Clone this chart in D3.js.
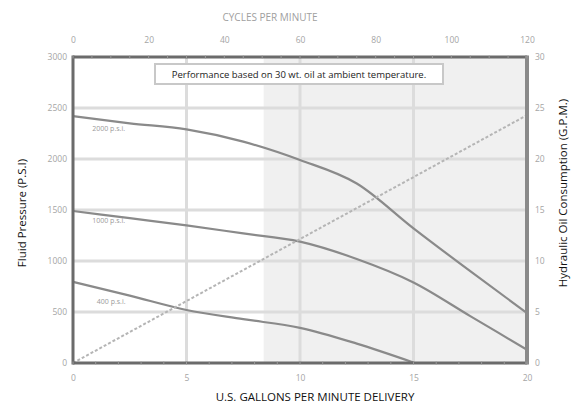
<!DOCTYPE html>
<html><head><meta charset="utf-8">
<script src="https://cdn.jsdelivr.net/npm/d3@7"></script>
<style>body{margin:0;background:#fff}svg{display:block}</style>
</head><body>
<script>
// Data
const gpmTicks = [0, 5, 10, 15, 20];
const psiTicks = [0, 500, 1000, 1500, 2000, 2500, 3000];
const cpmTicks = [0, 20, 40, 60, 80, 100, 120];
const oilTicks = [0, 5, 10, 15, 20, 25, 30];
const curveNames = ["2000 p.s.i.", "1000 p.s.i.", "400 p.s.i."];
const gpm2000 = [0, 2.5, 5, 7.5, 10, 12.5, 15, 17.5, 20];
const psi2000 = [2420, 2350, 2290, 2170, 1990, 1760, 1320, 900, 490];
const gpm1000 = [0, 2.5, 5, 7.5, 10, 12.5, 15, 17.5, 20];
const psi1000 = [1490, 1420, 1350, 1270, 1190, 1020, 790, 460, 130];
const gpm400 = [0, 2.5, 5, 7.5, 10, 12.5, 15];
const psi400 = [795, 660, 520, 430, 345, 190, 5];
const oilGpm = [0, 20];
const oilUse = [0, 24.3];
const shadeFrom = 8.4;
const note = "Performance based on 30 wt. oil at ambient temperature.";

const W = 579, H = 407;
const m = {l: 73, r: 52, t: 57, b: 44};
const svg = d3.select("body").append("svg").attr("width", W).attr("height", H)
  .style("font-family", "'Open Sans', 'Noto Sans', sans-serif");

const x = d3.scaleLinear().domain([0, 20]).range([m.l, W - m.r]);
const xTop = d3.scaleLinear().domain([0, 120]).range([m.l, W - m.r]);
const y = d3.scaleLinear().domain([0, 3000]).range([H - m.b, m.t]);
const yR = d3.scaleLinear().domain([0, 30]).range([H - m.b, m.t]);

// shaded region
svg.append("rect").attr("x", x(shadeFrom)).attr("y", y(3000))
  .attr("width", x(20) - x(shadeFrom)).attr("height", y(0) - y(3000)).attr("fill", "#f0f0f0");

// grid
svg.append("g").selectAll("line").data(psiTicks.slice(1, -1)).join("line")
  .attr("x1", x(0)).attr("x2", x(20)).attr("y1", d => y(d)).attr("y2", d => y(d))
  .attr("stroke", "#dcdcdc").attr("stroke-width", 3);
svg.append("g").selectAll("line").data(gpmTicks.slice(1, -1)).join("line")
  .attr("y1", y(0)).attr("y2", y(3000)).attr("x1", d => x(d)).attr("x2", d => x(d))
  .attr("stroke", "#dcdcdc").attr("stroke-width", 3);

// note box
const noteG = svg.append("g");
noteG.append("rect").attr("x", 155).attr("y", 64).attr("width", 288).attr("height", 20)
  .attr("fill", "#fff").attr("stroke", "#c8c8c8").attr("stroke-width", 2);
noteG.append("text").attr("x", 299).attr("y", 78).attr("text-anchor", "middle")
  .attr("font-size", 9.5).attr("fill", "#222").text(note);

// curves
const line = d3.line().x(d => x(d[0])).y(d => y(d[1])).curve(d3.curveMonotoneX);
const series = [
  [gpm2000, psi2000], [gpm1000, psi1000], [gpm400, psi400]
];
series.forEach(([gx, gy]) => {
  svg.append("path").datum(gx.map((g, i) => [g, gy[i]]))
    .attr("d", line).attr("fill", "none").attr("stroke", "#8a8a8a").attr("stroke-width", 2.2);
});
// oil line
svg.append("path").datum(oilGpm.map((g, i) => [g, oilUse[i]]))
  .attr("d", d3.line().x(d => x(d[0])).y(d => yR(d[1])))
  .attr("fill", "none").attr("stroke", "#b5b5b5").attr("stroke-width", 2)
  .attr("stroke-dasharray", "3,2");

// curve labels
const labelPos = [[0.85, 2270], [0.85, 1370], [1.05, 580]];
curveNames.forEach((n, i) => {
  svg.append("text").attr("x", x(labelPos[i][0])).attr("y", y(labelPos[i][1]))
    .attr("font-size", 7).attr("fill", "#9a9a9a").text(n);
});

// frame
svg.append("line").attr("x1", x(0)).attr("x2", x(20)).attr("y1", y(3000)).attr("y2", y(3000))
  .attr("stroke", "#6b6b6b").attr("stroke-width", 3);
svg.append("line").attr("x1", x(0)).attr("x2", x(20)).attr("y1", y(0)).attr("y2", y(0))
  .attr("stroke", "#6b6b6b").attr("stroke-width", 3);
svg.append("line").attr("x1", x(0)).attr("x2", x(0)).attr("y1", y(0) + 1.5).attr("y2", y(3000) - 1.5)
  .attr("stroke", "#6b6b6b").attr("stroke-width", 3);
svg.append("line").attr("x1", x(20)).attr("x2", x(20)).attr("y1", y(0) + 1.5).attr("y2", y(3000) - 1.5)
  .attr("stroke", "#8a8a8a").attr("stroke-width", 4);

// minor ticks along top and bottom
const minor = d3.range(0, 20.01, 1);
svg.append("g").selectAll("line").data(minor).join("line")
  .attr("x1", d => x(d)).attr("x2", d => x(d)).attr("y1", y(0) - 1.5).attr("y2", y(0) + 1.5)
  .attr("stroke", "#999").attr("stroke-width", 1);
svg.append("g").selectAll("line").data(d3.range(0, 120.1, 5)).join("line")
  .attr("x1", d => xTop(d)).attr("x2", d => xTop(d)).attr("y1", y(3000) - 1.5).attr("y2", y(3000) + 1.5)
  .attr("stroke", "#999").attr("stroke-width", 1);

// axes
const fmt = d3.format("d");
const tickStyle = g => {
  g.select(".domain").remove();
  g.selectAll(".tick line").remove();
  g.selectAll(".tick text").attr("fill", "#a5a5a5").attr("font-size", 8.5)
    .style("font-family", "'Open Sans', sans-serif");
};
svg.append("g").attr("transform", `translate(${m.l},0)`)
  .call(d3.axisLeft(y).tickValues(psiTicks).tickFormat(fmt).tickSize(0).tickPadding(6)).call(tickStyle);
svg.append("g").attr("transform", `translate(${W - m.r},0)`)
  .call(d3.axisRight(yR).tickValues(oilTicks).tickFormat(fmt).tickSize(0).tickPadding(8)).call(tickStyle);
svg.append("g").attr("transform", `translate(0,${H - m.b})`)
  .call(d3.axisBottom(x).tickValues(gpmTicks).tickFormat(fmt).tickSize(0).tickPadding(12)).call(tickStyle);
svg.append("g").attr("transform", `translate(0,${m.t})`)
  .call(d3.axisTop(xTop).tickValues(cpmTicks).tickFormat(fmt).tickSize(0).tickPadding(14)).call(tickStyle);

// titles
svg.append("text").attr("x", 270).attr("y", 21).attr("text-anchor", "middle")
  .attr("font-size", 10).attr("fill", "#a0a0a0").text("CYCLES PER MINUTE");
svg.append("text").attr("x", 315).attr("y", 401).attr("text-anchor", "middle")
  .attr("font-size", 11.5).attr("fill", "#111").text("U.S. GALLONS PER MINUTE DELIVERY");
svg.append("text").attr("transform", "translate(26,213) rotate(-90)").attr("text-anchor", "middle")
  .attr("font-size", 11.5).attr("fill", "#111").text("Fluid Pressure (P.S.I)");
svg.append("text").attr("transform", "translate(567,193) rotate(-90)").attr("text-anchor", "middle")
  .attr("font-size", 11.5).attr("fill", "#111").text("Hydraulic Oil Consumption (G.P.M.)");
</script>
</body></html>
